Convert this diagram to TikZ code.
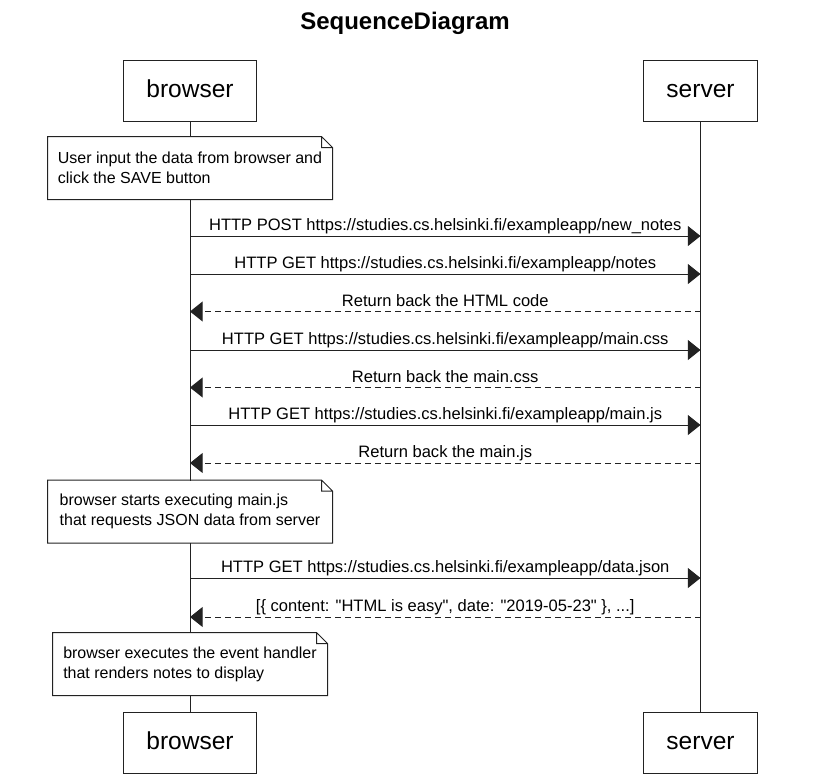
\documentclass[tikz,border=0pt]{standalone}
\usepackage{fontspec}
\setmainfont{Liberation Sans}[Ligatures=TeXOff]
\usetikzlibrary{arrows.meta, calc}
\definecolor{cline}{HTML}{222222}
\tikzset{
  every picture/.style={line width=0.75pt},
  actor/.style={draw=cline, fill=white, font=\fontsize{18.4}{22}\selectfont, inner xsep=17pt, minimum height=45.75pt, text height=13.5pt, text depth=2.4pt},
  notebox/.style={fill=white, align=left, minimum width=#1, minimum height=46.5pt, font=\fontsize{12}{15}\selectfont},
  notebox/.default=213pt,
  call/.style={-{Triangle[length=9.5pt, width=15pt]}, draw=cline},
  reply/.style={call, dash pattern=on 4.5pt off 3pt},
  lbl/.style={above, font=\fontsize{12.4}{14}\selectfont, inner sep=1.2pt, text height=7.5pt, text depth=2.2pt},
  title/.style={font=\fontsize{18}{22}\selectfont\bfseries},
}
\begin{document}
\begin{tikzpicture}[x=0.75pt, y=-0.75pt]
  \useasboundingbox (0,0) rectangle (830,776);
  \node[title] (ttl) at (405,23) {SequenceDiagram};
  % participants, top and bottom
  \node[actor] (bt) at (190,90.5) {browser};
  \node[actor] (st) at (700.5,90.5) {server};
  \node[actor] (bb) at (190,742.5) {browser};
  \node[actor] (sb) at (700.5,742.5) {server};
  \draw[cline] (bt) -- (bb);
  \draw[cline] (st) -- (sb);
  % notes on the browser lifeline
  \node[notebox] (n1) at (190,168) {User input the data from browser and\\click the SAVE button};
  \node[notebox] (n2) at (190,511.5) {browser starts executing main.js\\that requests JSON data from server};
  \node[notebox=205.5pt] (n3) at (190,664) {browser executes the event handler\\that renders notes to display};
  \foreach \n in {n1,n2,n3}
    \draw[cline] (\n.south west) -- (\n.north west) -- ([xshift=-8.25pt]\n.north east)
      -- ([yshift=-8.25pt]\n.north east) -- (\n.south east) -- cycle
      ([xshift=-8.25pt]\n.north east) |- ([yshift=-8.25pt]\n.north east);
  % messages
  \foreach \y/\a/\b/\s/\t in {
      236/bt/st/call/{HTTP POST https://studies.cs.helsinki.fi/exampleapp/new\_notes},
      274/bt/st/call/{HTTP GET https://studies.cs.helsinki.fi/exampleapp/notes},
      311.5/st/bt/reply/{Return back the HTML code},
      350/bt/st/call/{HTTP GET https://studies.cs.helsinki.fi/exampleapp/main.css},
      387.5/st/bt/reply/{Return back the main.css},
      425/bt/st/call/{HTTP GET https://studies.cs.helsinki.fi/exampleapp/main.js},
      463/st/bt/reply/{Return back the main.js},
      578/bt/st/call/{HTTP GET https://studies.cs.helsinki.fi/exampleapp/data.json},
      617/st/bt/reply/{[\{ content: "HTML is easy", date: "2019-05-23" \}, ...]}}
    \draw[\s] (\a |- 0,\y) -- node[lbl] {\t} (\b |- 0,\y);
\end{tikzpicture}
\end{document}
